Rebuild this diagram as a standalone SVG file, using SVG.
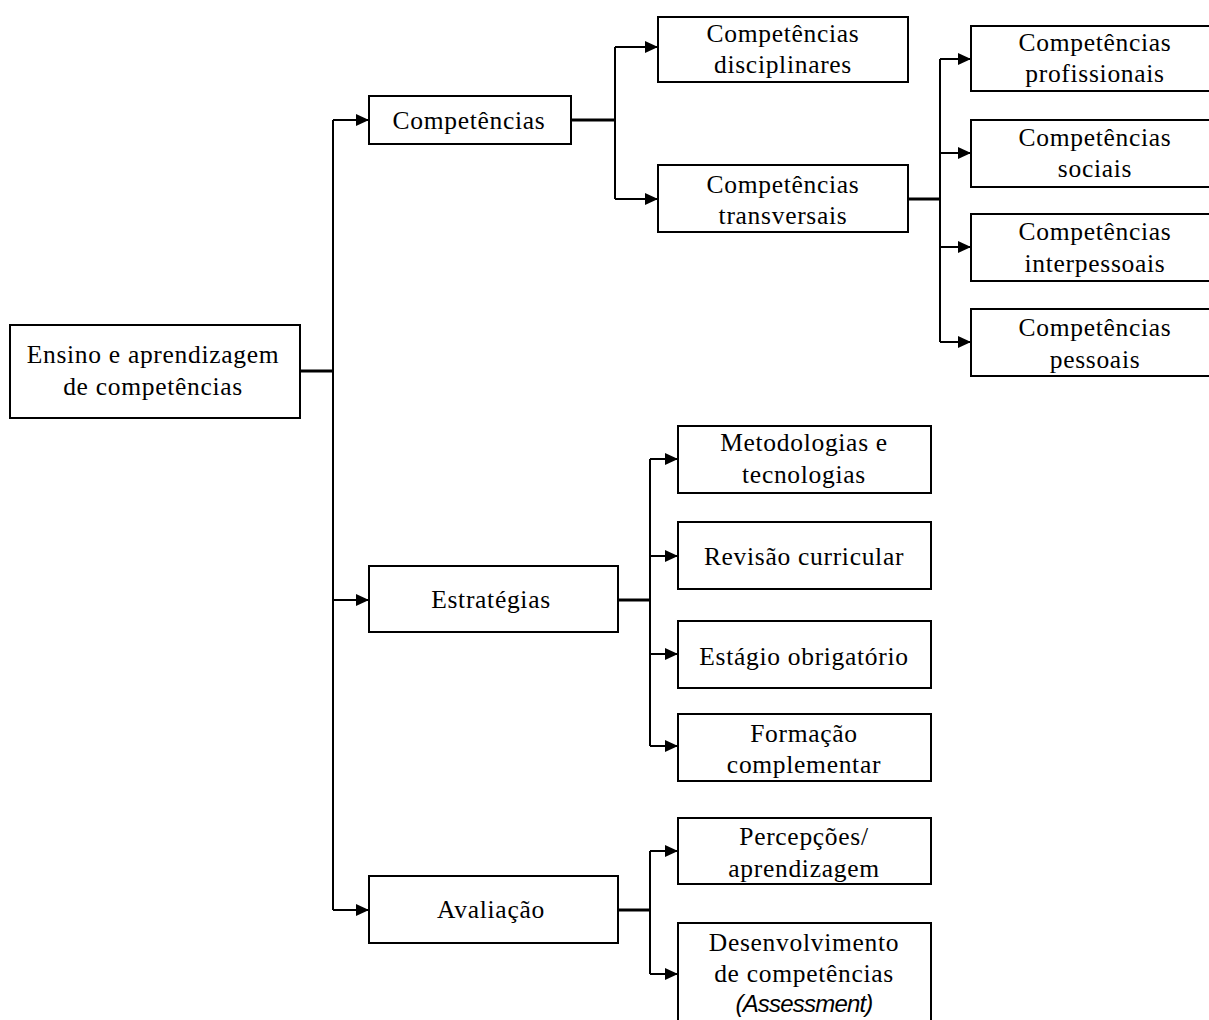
<svg xmlns="http://www.w3.org/2000/svg" width="1209" height="1020" viewBox="0 0 1209 1020">
<style>
.box{fill:#fff;stroke:#000;stroke-width:2}
.t{font-family:"Liberation Serif","Times New Roman",serif;font-size:25.5px;fill:#000;text-anchor:middle;letter-spacing:0.7px}
.it{font-family:"Liberation Sans",Arial,sans-serif;font-size:24px;font-style:italic;fill:#000;text-anchor:middle;letter-spacing:-0.8px}
.c{fill:none;stroke:#000;stroke-width:2}
.c3{fill:none;stroke:#000;stroke-width:3}
</style>
<defs>
<marker id="ah" markerUnits="userSpaceOnUse" markerWidth="14" markerHeight="12" refX="13" refY="6" orient="auto">
<path d="M0,0 L13,6 L0,12 z" fill="#000"/>
</marker>
</defs>
<rect width="1209" height="1020" fill="#fff"/>
<g id="connectors">
<path class="c3" d="M300,371 H333"/>
<path class="c" d="M333,120 V910"/>
<path class="c" d="M333,120 H369" marker-end="url(#ah)"/>
<path class="c" d="M333,600 H369" marker-end="url(#ah)"/>
<path class="c" d="M333,910 H369" marker-end="url(#ah)"/>
<path class="c3" d="M571,120 H615"/>
<path class="c" d="M615,47 V199"/>
<path class="c" d="M615,47 H658" marker-end="url(#ah)"/>
<path class="c" d="M615,199 H658" marker-end="url(#ah)"/>
<path class="c3" d="M908,199 H940"/>
<path class="c" d="M940,59 V342"/>
<path class="c" d="M940,59 H971" marker-end="url(#ah)"/>
<path class="c" d="M940,153 H971" marker-end="url(#ah)"/>
<path class="c" d="M940,247 H971" marker-end="url(#ah)"/>
<path class="c" d="M940,342 H971" marker-end="url(#ah)"/>
<path class="c3" d="M618,600 H650"/>
<path class="c" d="M650,459 V746"/>
<path class="c" d="M650,459 H678" marker-end="url(#ah)"/>
<path class="c" d="M650,556 H678" marker-end="url(#ah)"/>
<path class="c" d="M650,654 H678" marker-end="url(#ah)"/>
<path class="c" d="M650,746 H678" marker-end="url(#ah)"/>
<path class="c3" d="M618,910 H650"/>
<path class="c" d="M650,851 V974"/>
<path class="c" d="M650,851 H678" marker-end="url(#ah)"/>
<path class="c" d="M650,974 H678" marker-end="url(#ah)"/>
</g>
<g id="root"><rect class="box" x="10" y="325" width="290" height="93"/><text class="t" x="153" y="363">Ensino e aprendizagem</text><text class="t" x="153" y="395">de competências</text></g>
<g id="competencias"><rect class="box" x="369" y="96" width="202" height="48"/><text class="t" x="469" y="129">Competências</text></g>
<g id="comp-disciplinares"><rect class="box" x="658" y="17" width="250" height="65"/><text class="t" x="783" y="42">Competências</text><text class="t" x="783" y="73">disciplinares</text></g>
<g id="comp-transversais"><rect class="box" x="658" y="165" width="250" height="67"/><text class="t" x="783" y="193">Competências</text><text class="t" x="783" y="224">transversais</text></g>
<g id="comp-profissionais"><rect class="box" x="971" y="26" width="250" height="65"/><text class="t" x="1095" y="51">Competências</text><text class="t" x="1095" y="82">profissionais</text></g>
<g id="comp-sociais"><rect class="box" x="971" y="120" width="250" height="67"/><text class="t" x="1095" y="146">Competências</text><text class="t" x="1095" y="177">sociais</text></g>
<g id="comp-interpessoais"><rect class="box" x="971" y="214" width="250" height="67"/><text class="t" x="1095" y="240">Competências</text><text class="t" x="1095" y="272">interpessoais</text></g>
<g id="comp-pessoais"><rect class="box" x="971" y="309" width="250" height="67"/><text class="t" x="1095" y="336">Competências</text><text class="t" x="1095" y="368">pessoais</text></g>
<g id="estrategias"><rect class="box" x="369" y="566" width="249" height="66"/><text class="t" x="491" y="608">Estratégias</text></g>
<g id="metodologias"><rect class="box" x="678" y="426" width="253" height="67"/><text class="t" x="804" y="451">Metodologias e</text><text class="t" x="804" y="483">tecnologias</text></g>
<g id="revisao"><rect class="box" x="678" y="522" width="253" height="67"/><text class="t" x="804" y="565">Revisão curricular</text></g>
<g id="estagio"><rect class="box" x="678" y="621" width="253" height="67"/><text class="t" x="804" y="665">Estágio obrigatório</text></g>
<g id="formacao"><rect class="box" x="678" y="714" width="253" height="67"/><text class="t" x="804" y="742">Formação</text><text class="t" x="804" y="773">complementar</text></g>
<g id="avaliacao"><rect class="box" x="369" y="876" width="249" height="67"/><text class="t" x="491" y="918">Avaliação</text></g>
<g id="percepcoes"><rect class="box" x="678" y="818" width="253" height="66"/><text class="t" x="804" y="845">Percepções/</text><text class="t" x="804" y="877">aprendizagem</text></g>
<g id="desenvolvimento"><rect class="box" x="678" y="923" width="253" height="110"/><text class="t" x="804" y="951">Desenvolvimento</text><text class="t" x="804" y="982">de competências</text><text class="it" x="804" y="1012">(Assessment)</text></g>
</svg>
